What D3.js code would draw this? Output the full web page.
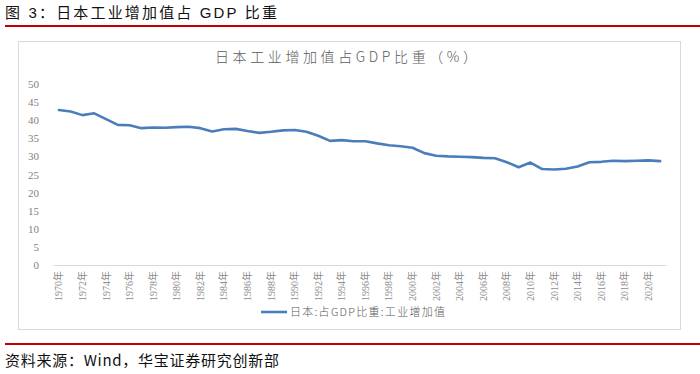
<!DOCTYPE html>
<html>
<head>
<meta charset="utf-8">
<script src="https://cdn.jsdelivr.net/npm/d3@7"></script>
<style>
  body { margin: 0; background: #fff; }
  svg { display: block; }
</style>
</head>
<body>
<div id="chart"></div>
<script>
// 日本工业增加值占GDP比重（%），1970-2021
var years = d3.range(1970, 2022);
var shareValues = [
  42.8, 42.4, 41.4, 41.9, 40.3, 38.7, 38.6, 37.8, 38.0, 37.9,
  38.1, 38.2, 37.8, 36.9, 37.5, 37.6, 37.0, 36.5, 36.8, 37.2,
  37.3, 36.8, 35.7, 34.3, 34.5, 34.2, 34.2, 33.6, 33.1, 32.8,
  32.4, 30.9, 30.2, 30.0, 29.9, 29.8, 29.6, 29.5, 28.4, 27.0,
  28.3, 26.5, 26.4, 26.6, 27.2, 28.4, 28.5, 28.8, 28.7, 28.8,
  28.9, 28.7
];
var yTicks = [0, 5, 10, 15, 20, 25, 30, 35, 40, 45, 50];
var labelYears = d3.range(1970, 2022, 2);

var figTitle = "图 3：日本工业增加值占 GDP 比重";
var chartTitle = "日本工业增加值占GDP比重（%）";
var legendLabel = "日本:占GDP比重:工业增加值";
var sourceNote = "资料来源：Wind，华宝证券研究创新部";

var W = 700, H = 374;
var margin = {top: 84, right: 34, bottom: 109, left: 53};

var svg = d3.select("#chart")
  .append("svg")
    .attr("width", W)
    .attr("height", H);

// report header + red rules
svg.append("text")
    .attr("x", 5)
    .attr("y", 18)
    .attr("textLength", 272)
    .attr("lengthAdjust", "spacing")
    .style("font-family", "'Liberation Sans', 'Noto Sans CJK SC', sans-serif")
    .style("font-size", "15px")
    .style("fill", "#111")
    .text(figTitle);

svg.append("rect")
    .attr("x", 5).attr("y", 25)
    .attr("width", 695).attr("height", 2)
    .style("fill", "#c00000");

svg.append("rect")
    .attr("x", 5).attr("y", 343)
    .attr("width", 695).attr("height", 2)
    .style("fill", "#c00000");

svg.append("text")
    .attr("x", 5)
    .attr("y", 366)
    .attr("textLength", 274)
    .attr("lengthAdjust", "spacing")
    .style("font-family", "'Noto Sans CJK SC', sans-serif")
    .style("font-size", "15px")
    .style("fill", "#111")
    .text(sourceNote);

// chart frame
svg.append("rect")
    .attr("x", 18.5).attr("y", 41.5)
    .attr("width", 662).attr("height", 288)
    .style("fill", "#fff")
    .style("stroke", "#d9d9d9")
    .style("stroke-width", 1);

svg.append("text")
    .attr("x", 215)
    .attr("y", 62)
    .attr("textLength", 262)
    .attr("lengthAdjust", "spacing")
    .style("font-family", "'Noto Sans CJK SC', sans-serif")
    .style("font-weight", 300)
    .style("font-size", "14px")
    .style("fill", "#595959")
    .text(chartTitle);

var plotW = W - margin.left - margin.right;   // 613
var plotH = H - margin.top - margin.bottom;   // 181

var g = svg.append("g")
    .attr("transform", "translate(" + margin.left + "," + margin.top + ")");

var x = d3.scaleBand()
    .domain(years)
    .range([0, plotW]);

var y = d3.scaleLinear()
    .domain([0, 50])
    .range([plotH, 0]);

// Y axis (labels only)
var yAxis = g.append("g")
    .call(d3.axisLeft(y).tickValues(yTicks).tickSize(0).tickPadding(14));
yAxis.select(".domain").remove();
yAxis.selectAll("text")
    .style("font-family", "'Liberation Serif', serif")
    .style("font-size", "11px")
    .style("fill", "#7f7f7f");

// X axis
var xAxis = g.append("g")
    .attr("transform", "translate(0," + plotH + ")")
    .call(d3.axisBottom(x)
      .tickValues(labelYears)
      .tickSize(0)
      .tickFormat(function(d) { return d + "年"; }));
xAxis.select(".domain")
    .style("stroke", "#d9d9d9");
xAxis.selectAll("text")
    .attr("transform", "rotate(-90)")
    .attr("x", -6)
    .attr("y", 0)
    .attr("dy", "0.35em")
    .style("text-anchor", "end")
    .style("font-family", "'Liberation Serif', 'Noto Sans CJK SC', serif")
    .style("font-size", "10px")
    .style("fill", "#8c8c8c");

// series line
var line = d3.line()
    .x(function(d, i) { return x(years[i]) + x.bandwidth() / 2; })
    .y(function(d) { return y(d); });

g.append("path")
    .datum(shareValues)
    .attr("d", line)
    .style("fill", "none")
    .style("stroke", "#4a7ebb")
    .style("stroke-width", 2.6)
    .style("stroke-linejoin", "round")
    .style("stroke-linecap", "round");

// legend
var legend = svg.append("g")
    .attr("transform", "translate(261,312)");
legend.append("line")
    .attr("x1", 0).attr("x2", 26)
    .style("stroke", "#4a7ebb")
    .style("stroke-width", 2.6);
legend.append("text")
    .attr("x", 29)
    .attr("dy", "0.35em")
    .attr("textLength", 155)
    .attr("lengthAdjust", "spacing")
    .style("font-family", "'Noto Sans CJK SC', sans-serif")
    .style("font-weight", 300)
    .style("font-size", "11px")
    .style("fill", "#595959")
    .text(legendLabel);
</script>
</body>
</html>
